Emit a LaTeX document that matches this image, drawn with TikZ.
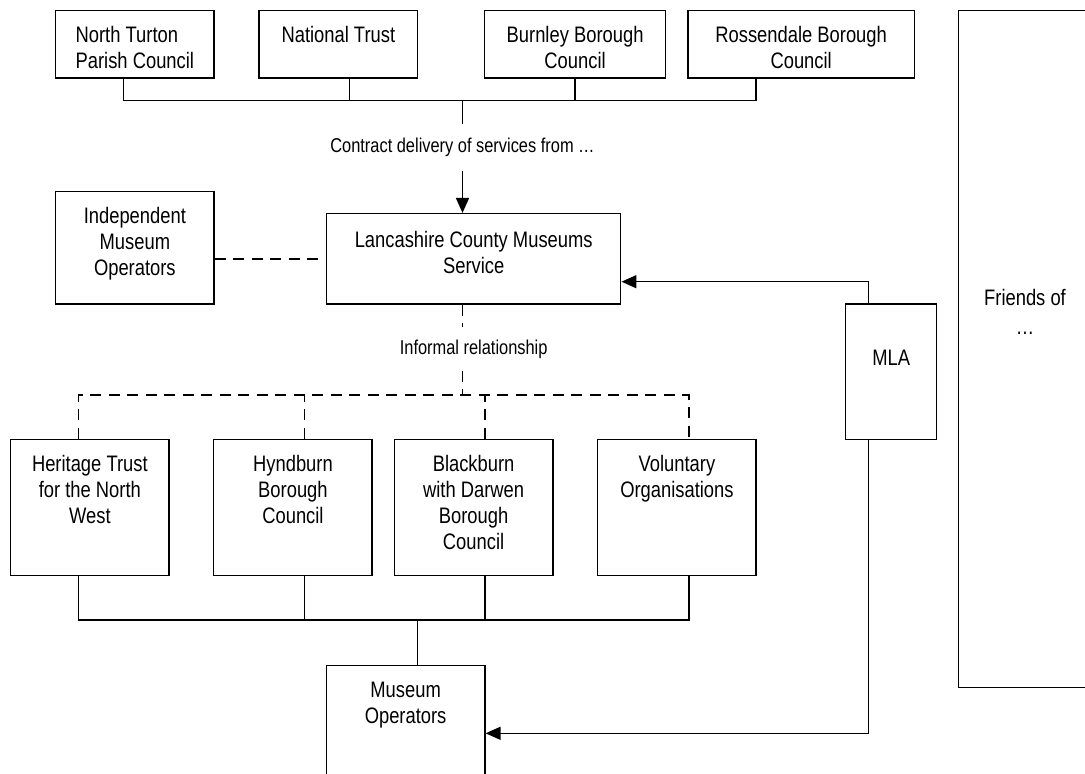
\documentclass[tikz,border=0pt]{standalone}
\usepackage{fontspec}
\setmainfont{Liberation Sans}[FakeStretch=0.82]
\usetikzlibrary{arrows.meta}
\newcommand{\boxlines}[2][c]{\begin{tabular}[t]{@{}#1@{}}#2\end{tabular}}
\tikzset{every node/.style={font=\fontsize{22.4pt}{25.9pt}\selectfont}}
\tikzset{box/.style={draw, inner sep=0pt, minimum width=158.5pt, text height=32pt, text depth=104pt},
  lbl/.style={inner sep=0pt, font=\fontsize{20pt}{23pt}\selectfont},
  arr/.style={-{Triangle[length=15pt,width=13pt]}},
  dashline/.style={dash pattern=on 11pt off 7.5pt}}

\begin{document}
\begin{tikzpicture}[x=1pt,y=-1pt,line width=1.5pt]
  \useasboundingbox (0,0) rectangle (1085,774);
  \clip (0,0) rectangle (1085,774);
  % top row
  \node[box, text depth=35.3pt] (nt) at (134.85,44.35) {\boxlines[l]{North Turton\\Parish Council}};
  \node[box, text depth=35.3pt] (natt) at (338.35,44.35) {National Trust};
  \node[box, minimum width=181.2pt, text depth=35.3pt] (bbc) at (575.1,44.35) {\boxlines{Burnley Borough\\Council}};
  \node[box, minimum width=226.3pt, text depth=35.3pt] (rbc) at (801.15,44.35) {\boxlines{Rossendale Borough\\Council}};
  \coordinate (tbus) at (462.5,100.7);
  \draw ([xshift=-11.55pt]nt.south) |- ([xshift=-45.15pt]rbc.south |- tbus) -- ([xshift=-45.15pt]rbc.south);
  \draw ([xshift=11.15pt]natt.south) -- ([xshift=11.15pt]natt.south |- tbus);
  \draw (bbc.south) -- (bbc.south |- tbus);
  % county service
  \node[lbl, minimum height=46pt] (cdl) at (462.5,147.5) {Contract delivery of services from …};
  \node[box, minimum width=294pt, text height=34pt, text depth=56.3pt] (lcms) at (473.7,258.85) {\boxlines{Lancashire County Museums\\Service}};
  \node[box, text depth=80.3pt] (imo) at (134.85,247.85) {\boxlines{Independent\\Museum\\Operators}};
  \draw (tbus) -- (cdl.north);
  \draw[arr] (cdl.south) -- (lcms.north -| tbus);
  \draw[dashline] (lcms.west -| imo.east) -- (lcms.west);
  % MLA and friends
  \node[box, minimum width=91pt, text height=61.3pt, text depth=74pt] (mla) at (891.2,371.65) {MLA};
  \node[box, minimum width=133.4pt, text height=294.3pt, text depth=382.7pt] (fof) at (1025,349.2) {\boxlines{Friends of\\[3.5pt]…}};
  \coordinate (mlaj) at (868.5,281.7);
  \draw[arr] (mla.north -| mlaj) |- (lcms.east |- mlaj);
  % informal links
  \node[lbl, minimum height=42pt] (irl) at (473.7,349) {Informal relationship};
  \coordinate (dbus) at (462.3,395);
  \draw[dashline] (lcms.south -| dbus) -- (irl.north -| dbus);
  \draw[dashline] (irl.south -| dbus) -- (dbus);
  % second row
  \node[box] (htnw) at (89.85,507.3) {\boxlines{Heritage Trust\\for the North\\West}};
  \node[box] (hbc) at (292.95,507.3) {\boxlines{Hyndburn\\Borough\\Council}};
  \node[box] (bwd) at (473.6,507.3) {\boxlines{Blackburn\\with Darwen\\Borough\\Council}};
  \node[box] (vol) at (676.95,507.3) {\boxlines{Voluntary\\Organisations}};
  \draw[dashline] ([xshift=-11.35pt]htnw.north) |- ([xshift=11.85pt]vol.north |- dbus) -- ([xshift=11.85pt]vol.north);
  \draw[dashline] ([xshift=11.45pt]hbc.north) -- ([xshift=11.45pt]hbc.north |- dbus);
  \draw[dashline] ([xshift=11.2pt]bwd.north) -- ([xshift=11.2pt]bwd.north |- dbus);
  % operators
  \node[box] (mo) at (405.6,733.3) {\boxlines{Museum\\Operators}};
  \coordinate (bbus) at (417.4,620);
  \draw ([xshift=-11.35pt]htnw.south) |- ([xshift=11.85pt]vol.south |- bbus) -- ([xshift=11.85pt]vol.south);
  \draw ([xshift=11.45pt]hbc.south) -- ([xshift=11.45pt]hbc.south |- bbus);
  \draw ([xshift=11.2pt]bwd.south) -- ([xshift=11.2pt]bwd.south |- bbus);
  \draw (bbus) -- (mo.north -| bbus);
  \draw[arr] (mla.south -| mlaj) |- (mo.east);
\end{tikzpicture}
\end{document}
